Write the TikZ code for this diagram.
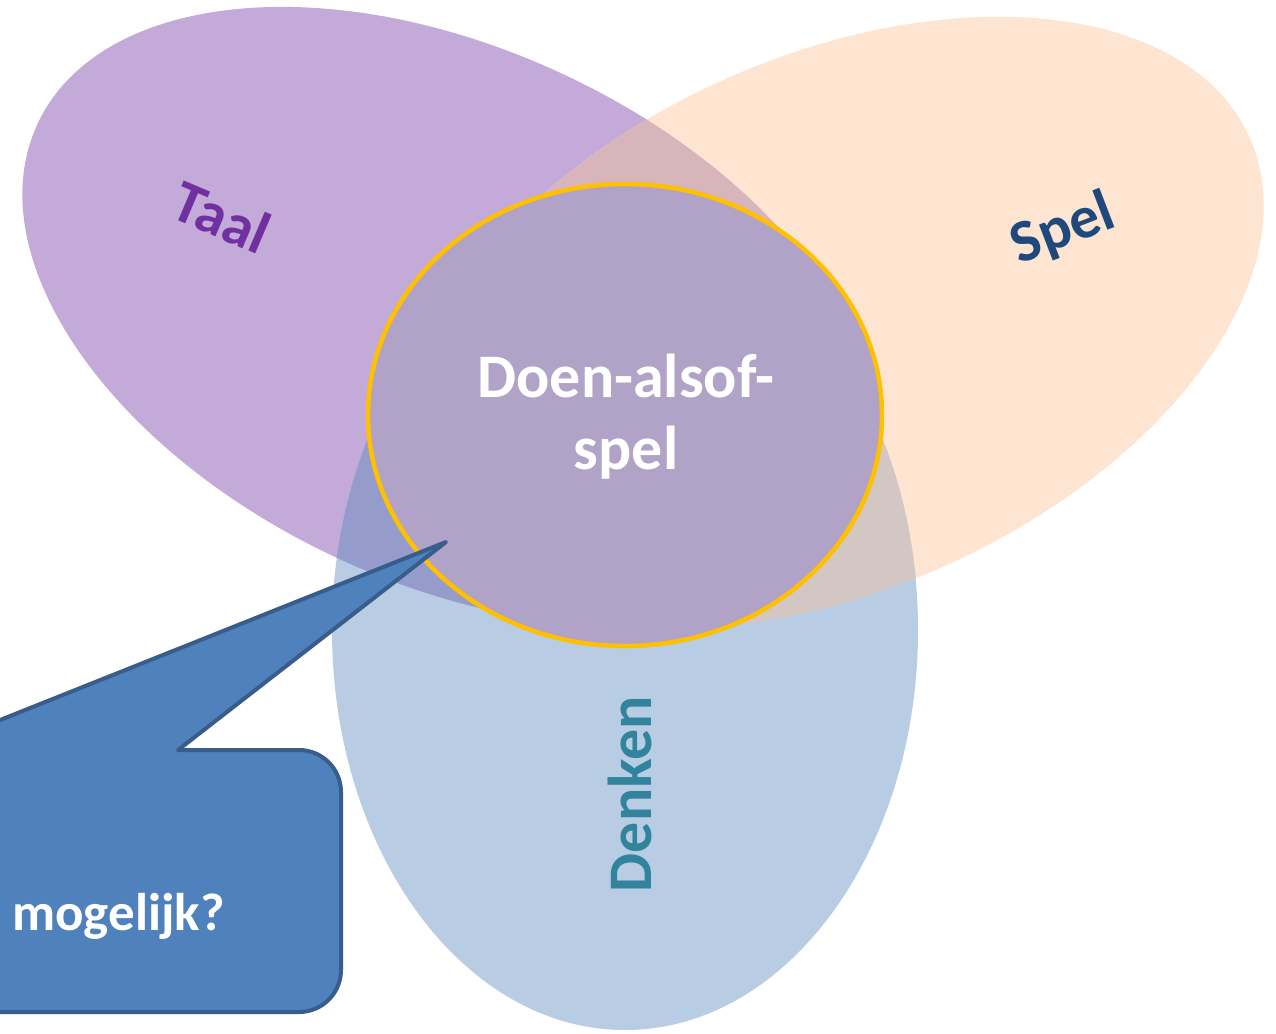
\documentclass[tikz,border=0pt]{standalone}
\usepackage{fontspec}
\setmainfont{Carlito}
\definecolor{taalC}{HTML}{C4AAD8}
\definecolor{spelC}{HTML}{FDE5D2}
\definecolor{denkC}{HTML}{B8CCE4}
\definecolor{tsC}{HTML}{D8B5BB}
\definecolor{tdC}{HTML}{959CCB}
\definecolor{sdC}{HTML}{D3C7C4}
\definecolor{midC}{HTML}{B1A2C8}
\definecolor{ringC}{HTML}{FFC000}
\definecolor{callC}{HTML}{4F81BD}
\definecolor{callD}{HTML}{385D8A}
\definecolor{taalT}{HTML}{7030A0}
\definecolor{spelT}{HTML}{1F497D}
\definecolor{denkT}{HTML}{31849B}
\tikzset{
  lbl/.style={font=\fontsize{60}{70}\selectfont\bfseries, inner sep=0pt},
  biglbl/.style={font=\fontsize{62}{74}\selectfont\bfseries, inner sep=0pt, text=white},
  callout/.style={fill=callC, draw=callD, line width=4pt, line join=round},
  taalE/.style={rotate around={-25:(450,-316)}},
  spelE/.style={rotate around={24:(834,-323)}}
}
\begin{document}
\begin{tikzpicture}[x=1pt,y=1pt]
\useasboundingbox (0,0) rectangle (1276,-1033);
\clip (0,0) rectangle (1276,-1033);
\fill[white] (0,0) rectangle (1276,-1033);
% base ellipses
\fill[taalC, taalE] (450,-316) ellipse [x radius=455, y radius=267];
\fill[spelC, spelE] (834,-323) ellipse [x radius=455, y radius=267];
\fill[denkC] (625,-630) ellipse [x radius=293, y radius=400];
% overlaps
\begin{scope}
  \clip[taalE] (450,-316) ellipse [x radius=455, y radius=267];
  \fill[tsC, spelE] (834,-323) ellipse [x radius=455, y radius=267];
  \fill[tdC] (625,-630) ellipse [x radius=293, y radius=400];
\end{scope}
\begin{scope}
  \clip[spelE] (834,-323) ellipse [x radius=455, y radius=267];
  \fill[sdC] (625,-630) ellipse [x radius=293, y radius=400];
\end{scope}
% central ellipse
\filldraw[fill=midC, draw=ringC, line width=4.5pt] (625,-415) ellipse [x radius=257, y radius=231];
% labels
\node[lbl, text=taalT, rotate=-23] (taal) at (222,-217) {Taal};
\node[lbl, text=spelT, rotate=21] (spel) at (1063,-230) {Spel};
\node[biglbl, text=denkT, rotate=90, anchor=base] (denken) at (651,-794) {Denken};
\node[biglbl, anchor=base] (doen1) at (626,-397) {Doen-alsof-};
\node[biglbl, anchor=base] (doen2) at (626,-469) {spel};
% callout
\draw[callout] (446,-542) -- (178,-750) -- (299,-750)
  arc[start angle=90, end angle=0, radius=42] -- (341,-970)
  arc[start angle=0, end angle=-90, radius=42] -- (-400,-1012) -- (-400,-750)
  -- (-75,-750) -- cycle;
\node[font=\fontsize{53}{63}\selectfont\bfseries, text=white, inner sep=0pt, anchor=base west] (mog) at (12,-930) {mogelijk?};
\end{tikzpicture}
\end{document}
